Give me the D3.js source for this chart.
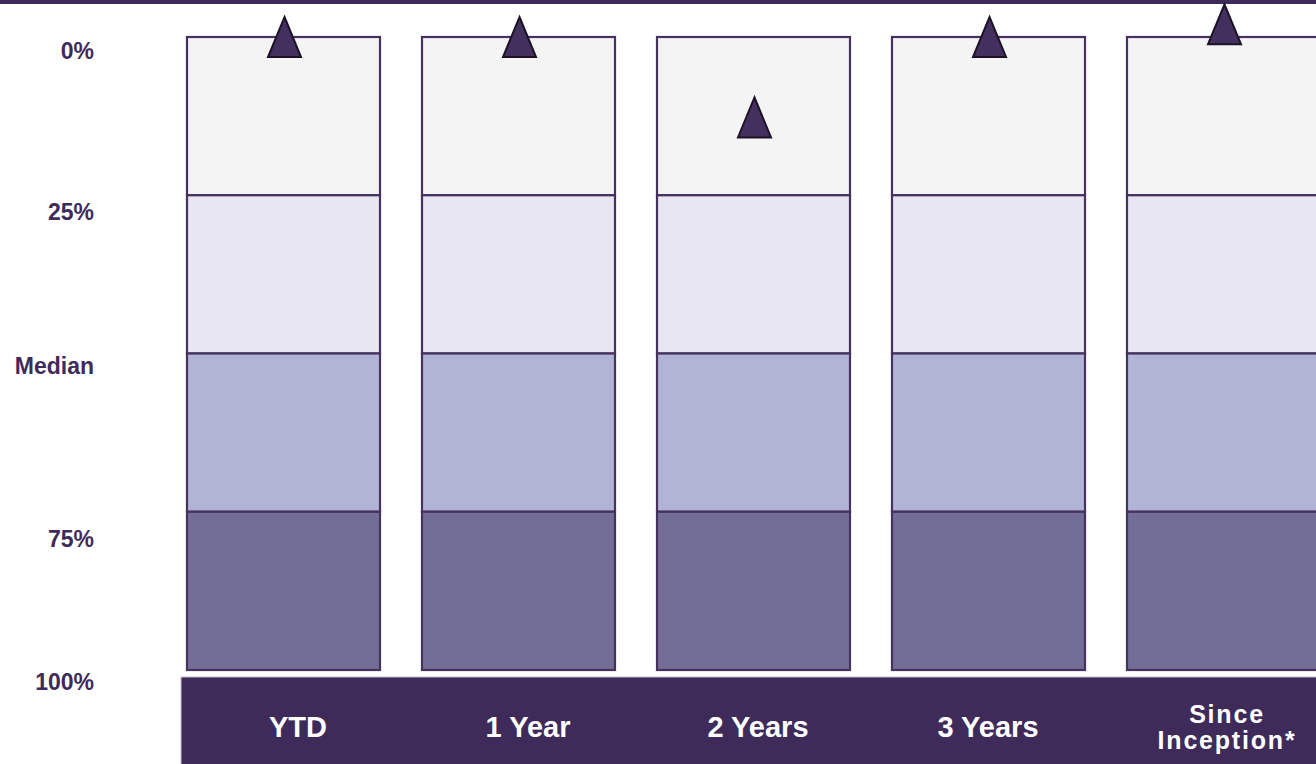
<!DOCTYPE html>
<html><head><meta charset="utf-8">
<script src="https://cdn.jsdelivr.net/npm/d3@7"></script>
<style>body{margin:0;background:#fff;overflow:hidden} svg{display:block}</style>
</head><body><svg id="c" width="1316" height="764"></svg>
<script>
// ---- data ----
const categories = ["YTD", "1 Year", "2 Years", "3 Years", "Since Inception*"];
const categoryLines = [["YTD"], ["1 Year"], ["2 Years"], ["3 Years"], ["Since", "Inception*"]];
const quartileStart = [0, 25, 50, 75];
const quartileEnd = [25, 50, 75, 100];
const rankValues = [0, 0, 12.7, 0, -2];
const tickLabels = ["0%", "25%", "Median", "75%", "100%"];
const tickLabelRanks = [2.2, 27.6, 51.9, 79.3, 101.9];

// ---- styles ----
const quartileColors = ["#f4f4f4", "#e8e6f2", "#b1b4d5", "#736e95"];
const dark = "#3f2b5a";
const font = "'Liberation Sans', Arial, sans-serif";

const svg = d3.select("#c");
const W = 1316, H = 764;

const x = d3.scaleBand().domain(categories).range([187, 1320]).paddingInner(42 / 235).paddingOuter(0);
const y = d3.scaleLinear().domain([0, 100]).range([37, 670]);
const xf = d3.scalePoint().domain(categories).range([298, 1218]);

// top strip
svg.append("rect").attr("x", 0).attr("y", 0).attr("width", W).attr("height", 4).attr("fill", dark);

// quartile segments
const segs = [];
categories.forEach(c => quartileStart.forEach((s, i) => segs.push({c, s, e: quartileEnd[i], i})));
svg.append("g").selectAll("rect").data(segs).join("rect")
  .attr("x", d => x(d.c)).attr("width", x.bandwidth())
  .attr("y", d => y(d.s)).attr("height", d => y(d.e) - y(d.s))
  .attr("fill", d => quartileColors[d.i])
  .attr("stroke", "#45325f").attr("stroke-width", 2.2);

// y labels
svg.append("g").selectAll("text").data(tickLabels).join("text")
  .attr("x", 94).attr("y", (d, i) => y(tickLabelRanks[i]))
  .attr("dy", "0.35em").attr("text-anchor", "end")
  .attr("font-family", font).attr("font-weight", "bold").attr("font-size", 23)
  .attr("fill", dark).text(d => d);

// footer band
svg.append("rect").attr("x", 181).attr("y", 677).attr("width", W - 181 + 2).attr("height", H - 677 + 2)
  .attr("fill", dark).attr("stroke", "#c4bfcc").attr("stroke-width", 1);

const lab = svg.append("g").selectAll("text").data(categories).join("text")
  .attr("text-anchor", "middle")
  .attr("font-family", font).attr("font-weight", "bold")
  .attr("fill", "#ffffff");
lab.each(function(d, i) {
  const t = d3.select(this);
  const lines = categoryLines[i];
  if (lines.length === 1) {
    t.attr("font-size", 29).append("tspan").attr("x", xf(d)).attr("y", 737).text(lines[0]);
  } else {
    t.attr("font-size", 25).attr("letter-spacing", 1.8);
    lines.forEach((l, k) => t.append("tspan").attr("x", xf(d) + 9).attr("y", 723 + k * 26).text(l));
  }
});

// rank triangles
const tri = d3.line();
svg.append("g").selectAll("path").data(categories).join("path")
  .attr("d", (d, i) => {
    const cx = x(d) + x.bandwidth() / 2 + 1, cy = y(rankValues[i]);
    return tri([[cx, cy - 20], [cx + 16.5, cy + 20], [cx - 16.5, cy + 20]]) + "Z";
  })
  .attr("fill", "#43305f").attr("stroke", "#1c1326").attr("stroke-width", 2).attr("stroke-linejoin", "miter");
</script></body></html>
